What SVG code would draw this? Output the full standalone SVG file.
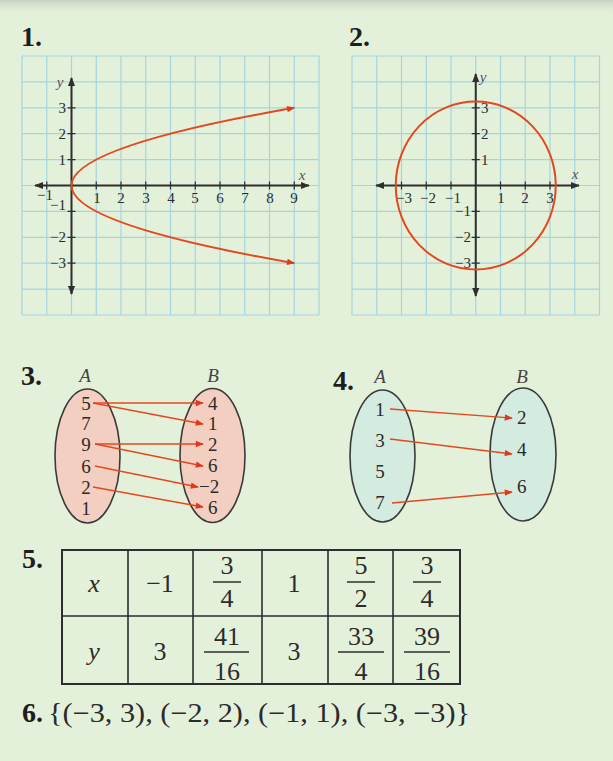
<svg xmlns="http://www.w3.org/2000/svg" width="613" height="761" viewBox="0 0 613 761">
<style>
text{font-family:"Liberation Serif","DejaVu Serif",serif;fill:#2b2b2b}
.hd{font-weight:bold;font-size:28px;fill:#1e1e1e}
.tk{font-size:15px;fill:#555}
.it{font-style:italic}
.grid{stroke:#a4d5de;stroke-width:1.2;fill:none}
.axis{stroke:#2e2e2e;stroke-width:2;fill:none}
.tick{stroke:#2e2e2e;stroke-width:1.2}
.curve{stroke:#e3481f;stroke-width:2;fill:none}
.arr{stroke:#e3481f;stroke-width:1.4;fill:none}
.ell{stroke:#3a3a3a;stroke-width:1.6}
.el{font-size:19px;fill:#444}
.tb{stroke:#2e2e2e;fill:none}
.tc{font-size:26px;text-anchor:middle}
.bar{stroke:#2e2e2e;stroke-width:1.5}
</style>
<defs>
<marker id="ax" viewBox="0 0 10 10" refX="9" refY="5" markerWidth="9" markerHeight="9" markerUnits="userSpaceOnUse" orient="auto-start-reverse"><path d="M0,1 L10,5 L0,9 Z" fill="#2e2e2e"/></marker>
<marker id="rd" viewBox="0 0 10 10" refX="9" refY="5" markerWidth="9" markerHeight="8" markerUnits="userSpaceOnUse" orient="auto-start-reverse"><path d="M0,1 L10,5 L0,9 Z" fill="#e0381c"/></marker>
<linearGradient id="topshade" x1="0" y1="0" x2="0" y2="1"><stop offset="0" stop-color="#c9d1c3"/><stop offset="1" stop-color="#e4f1da" stop-opacity="0"/></linearGradient>
</defs>
<rect width="613" height="761" fill="#e4f1da"/>
<rect width="613" height="16" fill="url(#topshade)"/>

<g id="graph1">
<text class="hd" x="21" y="46">1.</text>
<path class="grid" d="M22,56V315M46.75,56V315M71.5,56V315M96.25,56V315M121,56V315M145.75,56V315M170.5,56V315M195.25,56V315M220,56V315M244.75,56V315M269.5,56V315M294.25,56V315M319,56V315M22,56H319M22,81.9H319M22,107.8H319M22,133.7H319M22,159.6H319M22,185.5H319M22,211.4H319M22,237.3H319M22,263.2H319M22,289.1H319M22,315H319"/>
<line class="axis" x1="35" y1="185.5" x2="309" y2="185.5" marker-start="url(#ax)" marker-end="url(#ax)"/>
<line class="axis" x1="71.5" y1="78" x2="71.5" y2="294" marker-start="url(#ax)" marker-end="url(#ax)"/>
<path class="tick" d="M46.75,181.5V189.5M96.25,181.5V189.5M121,181.5V189.5M145.75,181.5V189.5M170.5,181.5V189.5M195.25,181.5V189.5M220,181.5V189.5M244.75,181.5V189.5M269.5,181.5V189.5M294.25,181.5V189.5M67.5,107.8H75.5M67.5,133.7H75.5M67.5,159.6H75.5M67.5,211.4H75.5M67.5,237.3H75.5M67.5,263.2H75.5"/>
<g class="tk" text-anchor="middle">
<text x="45" y="200">−1</text><text x="97" y="203">1</text><text x="121" y="203">2</text><text x="146" y="203">3</text><text x="171" y="203">4</text><text x="195" y="203">5</text><text x="220" y="203">6</text><text x="245" y="203">7</text><text x="270" y="203">8</text><text x="294" y="203">9</text>
</g>
<g class="tk" text-anchor="end">
<text x="66" y="112.5">3</text><text x="66" y="138.5">2</text><text x="66" y="164.5">1</text><text x="66" y="210">−1</text><text x="66" y="242">−2</text><text x="66" y="268">−3</text>
</g>
<text class="tk it" x="302" y="180" text-anchor="middle">x</text>
<text class="tk it" x="60" y="87" text-anchor="middle">y</text>
<path class="curve" d="M294.25,263.2 Q-151.25,185.5 294.25,107.8" marker-start="url(#rd)" marker-end="url(#rd)"/>
</g>

<g id="graph2">
<text class="hd" x="349" y="46">2.</text>
<path class="grid" d="M352,56V315M376.75,56V315M401.5,56V315M426.25,56V315M451,56V315M475.75,56V315M500.5,56V315M525.25,56V315M550,56V315M574.75,56V315M599.5,56V315M352,56H599.5M352,81.9H599.5M352,107.8H599.5M352,133.7H599.5M352,159.6H599.5M352,185.5H599.5M352,211.4H599.5M352,237.3H599.5M352,263.2H599.5M352,289.1H599.5M352,315H599.5"/>
<line class="axis" x1="376" y1="185.5" x2="579" y2="185.5" marker-start="url(#ax)" marker-end="url(#ax)"/>
<line class="axis" x1="475.75" y1="74" x2="475.75" y2="296" marker-start="url(#ax)" marker-end="url(#ax)"/>
<path class="tick" d="M401.5,181.5V189.5M426.25,181.5V189.5M451,181.5V189.5M500.5,181.5V189.5M525.25,181.5V189.5M550,181.5V189.5M471.75,107.8H479.75M471.75,133.7H479.75M471.75,159.6H479.75M471.75,211.4H479.75M471.75,237.3H479.75M471.75,263.2H479.75"/>
<g class="tk" text-anchor="middle">
<text x="404" y="203">−3</text><text x="428" y="203">−2</text><text x="453" y="203">−1</text><text x="501" y="203">1</text><text x="525" y="203">2</text><text x="550" y="203">3</text>
</g>
<g class="tk">
<text x="481" y="112.5">3</text><text x="481" y="138.5">2</text><text x="481" y="164.5">1</text>
</g>
<g class="tk" text-anchor="end">
<text x="471" y="216">−1</text><text x="471" y="242">−2</text><text x="471" y="268">−3</text>
</g>
<text class="tk it" x="575" y="179" text-anchor="middle">x</text>
<text class="tk it" x="483" y="82" text-anchor="middle">y</text>
<ellipse class="curve" cx="475.75" cy="185.5" rx="80" ry="84"/>
</g>

<g id="mapping3">
<text class="hd" x="21" y="385">3.</text>
<text class="el it" x="85" y="382" text-anchor="middle">A</text>
<text class="el it" x="213" y="382" text-anchor="middle">B</text>
<ellipse class="ell" cx="87.5" cy="456" rx="32.5" ry="67" fill="#f3cfc1"/>
<ellipse class="ell" cx="212.5" cy="455.5" rx="32.5" ry="67" fill="#f3cfc1"/>
<g class="el" text-anchor="middle">
<text x="86" y="410">5</text><text x="86" y="430">7</text><text x="86" y="451">9</text><text x="86" y="473">6</text><text x="86" y="494">2</text><text x="86" y="515">1</text>
</g>
<g class="el">
<text x="208" y="410">4</text><text x="208" y="430">1</text><text x="208" y="451">2</text><text x="208" y="472">6</text><text x="199" y="493">−2</text><text x="208" y="514">6</text>
</g>
</g>

<g id="mapping4">
<text class="hd" x="333" y="390">4.</text>
<text class="el it" x="380" y="383" text-anchor="middle">A</text>
<text class="el it" x="522" y="383" text-anchor="middle">B</text>
<ellipse class="ell" cx="382.5" cy="456" rx="32.5" ry="66" fill="#d4ebe0"/>
<ellipse class="ell" cx="523" cy="454.5" rx="33" ry="66.5" fill="#d4ebe0"/>
<g class="el" text-anchor="middle">
<text x="380" y="416">1</text><text x="380" y="447">3</text><text x="380" y="478">5</text><text x="380" y="509">7</text>
</g>
<g class="el">
<text x="517" y="424">2</text><text x="517" y="456">4</text><text x="517" y="493">6</text>
</g>
</g>

<g id="connectors">
<line class="arr" x1="93" y1="403" x2="203" y2="403" marker-end="url(#rd)"/>
<line class="arr" x1="93" y1="403" x2="203" y2="424" marker-end="url(#rd)"/>
<line class="arr" x1="95" y1="444" x2="203" y2="444" marker-end="url(#rd)"/>
<line class="arr" x1="95" y1="444" x2="203" y2="466" marker-end="url(#rd)"/>
<line class="arr" x1="95" y1="466" x2="198" y2="487" marker-end="url(#rd)"/>
<line class="arr" x1="93" y1="487" x2="203" y2="507" marker-end="url(#rd)"/>
<line class="arr" x1="390" y1="409" x2="512" y2="418" marker-end="url(#rd)"/>
<line class="arr" x1="390" y1="439" x2="512" y2="454" marker-end="url(#rd)"/>
<line class="arr" x1="392" y1="503" x2="512" y2="492" marker-end="url(#rd)"/>
</g>

<g id="table5">
<text class="hd" x="22" y="568">5.</text>
<rect class="tb" x="62" y="550" width="398" height="134" stroke-width="2"/>
<path class="tb" stroke-width="1.6" d="M62,616H460M128,550V684M193,550V684M262,550V684M328,550V684M393,550V684"/>
<text class="tc it" x="94" y="592">x</text>
<text class="tc" x="160" y="592">−1</text>
<text class="tc" x="227" y="574">3</text><line class="bar" x1="213" y1="582" x2="241" y2="582"/><text class="tc" x="227" y="607">4</text>
<text class="tc" x="294" y="592">1</text>
<text class="tc" x="361" y="574">5</text><line class="bar" x1="347" y1="582" x2="375" y2="582"/><text class="tc" x="361" y="607">2</text>
<text class="tc" x="427" y="574">3</text><line class="bar" x1="413" y1="582" x2="441" y2="582"/><text class="tc" x="427" y="607">4</text>
<text class="tc it" x="94" y="660">y</text>
<text class="tc" x="160" y="660">3</text>
<text class="tc" x="227" y="645">41</text><line class="bar" x1="204" y1="652" x2="249" y2="652"/><text class="tc" x="227" y="680">16</text>
<text class="tc" x="294" y="660">3</text>
<text class="tc" x="361" y="645">33</text><line class="bar" x1="338" y1="652" x2="384" y2="652"/><text class="tc" x="361" y="680">4</text>
<text class="tc" x="427" y="645">39</text><line class="bar" x1="404" y1="652" x2="450" y2="652"/><text class="tc" x="427" y="680">16</text>
</g>

<g id="set6">
<text class="hd" x="22" y="722">6.</text>
<text x="48" y="722" font-size="27" textLength="422" lengthAdjust="spacingAndGlyphs">{(−3, 3), (−2, 2), (−1, 1), (−3, −3)}</text>
</g>
</svg>
